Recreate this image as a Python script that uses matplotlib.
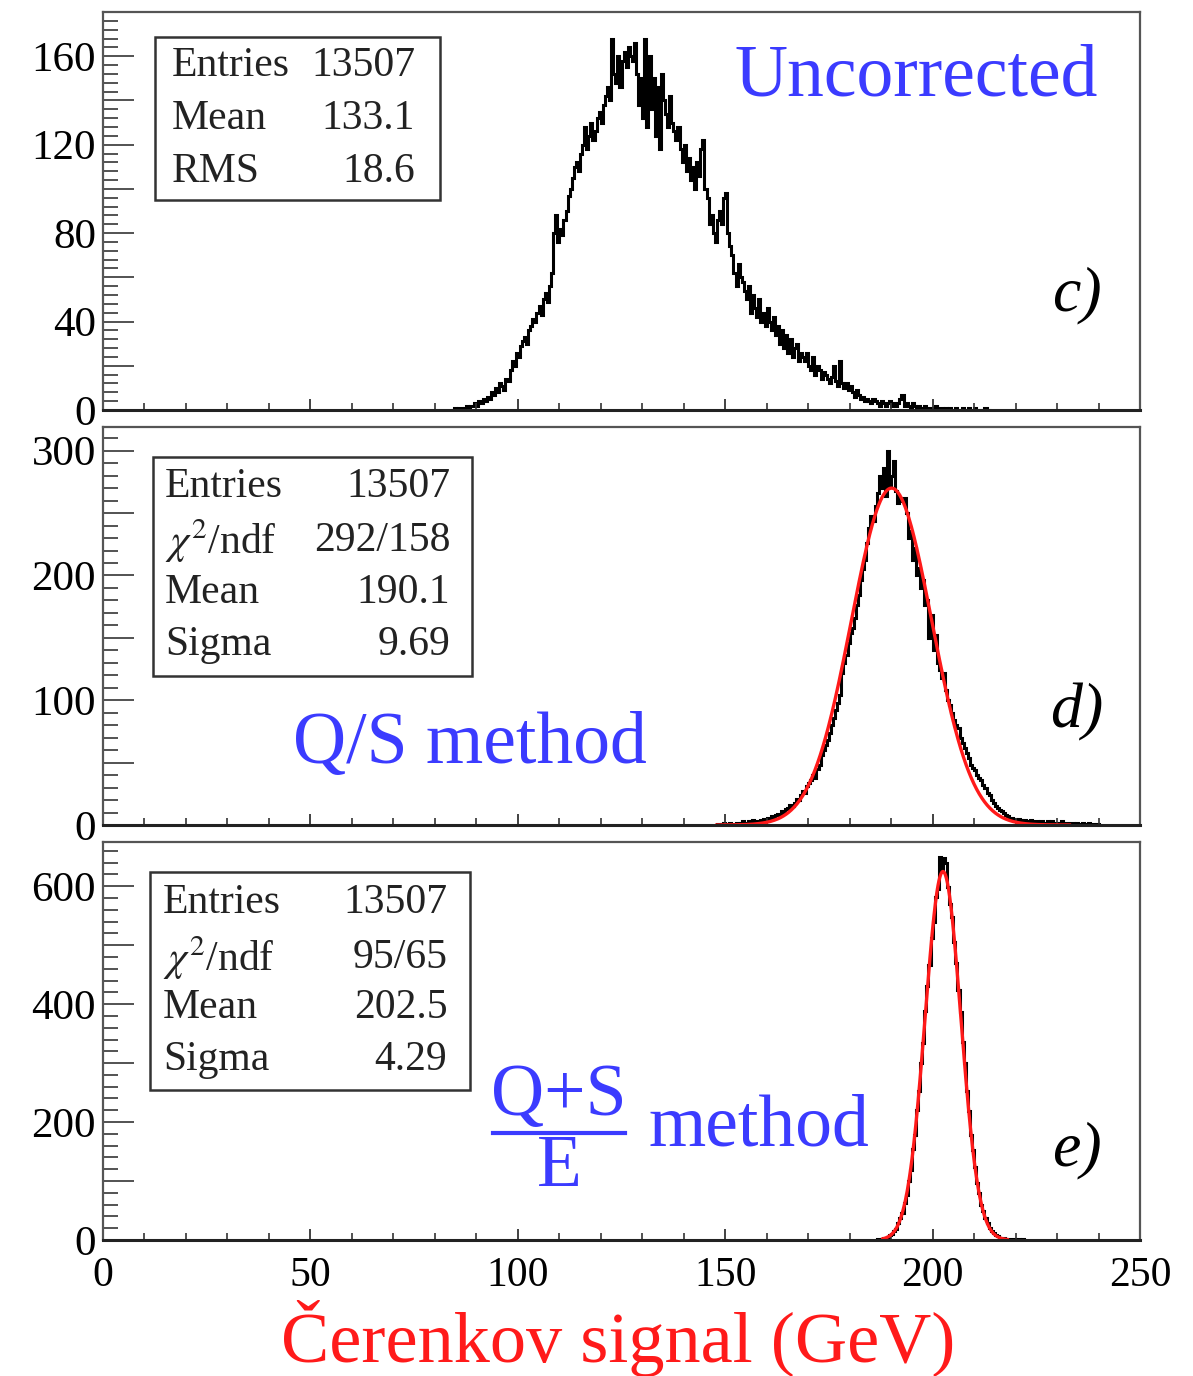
import numpy as np
import matplotlib.pyplot as plt
from matplotlib.ticker import MultipleLocator, FuncFormatter
from matplotlib.patches import Rectangle

plt.rcParams['font.family'] = ['Liberation Serif', 'DejaVu Serif']
plt.rcParams['mathtext.fontset'] = 'stix'

# histogram bins are 0.5 GeV wide
bin_width = 0.5

# c) uncorrected, first bin starts at 84 GeV
c_start = 84.0
c_counts = [
    0, 1, 0, 1, 1, 0, 1, 2, 1, 2,
    2, 3, 2, 4, 3, 5, 4, 6, 5, 8,
    7, 10, 8, 12, 11, 9, 14, 13, 18, 22,
    20, 26, 24, 29, 31, 33, 30, 36, 38, 41,
    40, 44, 47, 43, 50, 53, 49, 56, 62, 80,
    88, 76, 82, 79, 86, 90, 97, 100, 105, 110,
    112, 108, 116, 120, 128, 118, 124, 130, 122, 126,
    132, 135, 130, 138, 142, 146, 140, 168, 152, 148,
    160, 146, 158, 162, 155, 164, 160, 158, 166, 152,
    138, 150, 132, 168, 128, 160, 136, 150, 124, 146,
    118, 152, 140, 134, 128, 142, 130, 126, 122, 128,
    118, 112, 120, 108, 114, 104, 110, 100, 112, 106,
    118, 122, 100, 96, 84, 88, 80, 76, 86, 90,
    84, 96, 98, 80, 74, 70, 62, 56, 66, 60,
    58, 54, 50, 56, 44, 52, 46, 42, 50, 40,
    44, 38, 46, 40, 36, 42, 34, 38, 30, 36,
    28, 34, 26, 32, 24, 28, 30, 22, 26, 24,
    22, 26, 20, 18, 24, 16, 20, 18, 14, 17,
    16, 14, 12, 15, 20, 13, 11, 22, 12, 10,
    12, 9, 11, 8, 6, 9, 7, 5, 6, 4,
    5, 4, 3, 5, 4, 3, 2, 4, 3, 2,
    3, 4, 2, 3, 2, 3, 5, 7, 2, 3,
    2, 1, 3, 2, 1, 2, 1, 1, 2, 1,
    1, 0, 1, 2, 0, 1, 1, 0, 1, 0,
    1, 0, 0, 1, 0, 0, 1, 0, 0, 1,
    0, 0, 1, 0, 0, 0, 0, 1, 0, 0,
]

# d) Q/S method, first bin starts at 148 GeV
d_start = 148.0
d_counts = [
    1, 0, 1, 2, 1, 0, 2, 1, 1, 2,
    1, 2, 3, 2, 1, 3, 2, 4, 3, 2,
    3, 4, 5, 4, 6, 5, 7, 6, 8, 9,
    8, 11, 10, 13, 14, 16, 15, 18, 21, 20,
    24, 27, 26, 31, 34, 36, 40, 38, 45, 48,
    56, 60, 64, 68, 74, 80, 86, 92, 98, 104,
    122, 130, 136, 146, 154, 158, 166, 176, 184, 196,
    205, 212, 226, 238, 248, 244, 256, 266, 280, 270,
    286, 264, 300, 272, 280, 292, 268, 258, 262, 260,
    262, 250, 230, 236, 212, 222, 200, 206, 190, 196,
    176, 180, 150, 168, 140, 152, 130, 124, 118, 122,
    108, 100, 96, 90, 84, 80, 78, 70, 66, 62,
    58, 54, 48, 46, 44, 40, 38, 36, 32, 30,
    26, 24, 20, 18, 15, 14, 12, 11, 10, 8,
    7, 6, 6, 5, 4, 5, 4, 3, 4, 3,
    3, 4, 2, 3, 3, 2, 3, 2, 2, 3,
    2, 3, 2, 2, 1, 2, 3, 1, 2, 2,
    1, 2, 1, 2, 1, 1, 2, 1, 1, 2,
    1, 1, 0, 1,
]

# e) (Q+S)/E method, first bin starts at 186 GeV
e_start = 186.0
e_counts = [
    0, 1, 1, 1, 3, 4, 5, 8, 11, 16, 19, 28, 38, 46, 63, 76,
    100, 118, 154, 178, 220, 252, 300, 334, 388, 430, 466, 512,
    540, 582, 596, 650, 630, 648, 640, 598, 570, 548, 505, 470,
    424, 386, 336, 300, 252, 218, 178, 152, 124, 96, 80, 60,
    49, 37, 29, 20, 15, 12, 8, 6, 4, 3, 3, 2,
    1, 2, 1, 1, 0, 1, 0, 1,
]

# gaussian fits (amplitude, mean, sigma, range)
d_fit = (270, 190.1, 9.69, 148, 233)
e_fit = (625, 202.5, 4.29, 188, 218)

c_stats = [("Entries", "13507"), ("Mean", "133.1"), ("RMS", "18.6")]
d_stats = [("Entries", "13507"), (r"$\chi^2$/ndf", "292/158"),
           ("Mean", "190.1"), ("Sigma", "9.69")]
e_stats = [("Entries", "13507"), (r"$\chi^2$/ndf", "95/65"),
           ("Mean", "202.5"), ("Sigma", "4.29")]

blue = '#3b3bff'
W, H = 1193, 1376
fig = plt.figure(figsize=(W / 100, H / 100), dpi=100)


def make_axes(top_px, bottom_px):
    left, right = 103, 1140
    return fig.add_axes([left / W, 1 - bottom_px / H,
                         (right - left) / W, (bottom_px - top_px) / H])


def style(ax, ymax, ymajor, yminor, ylabel_step, show_x):
    ax.set_xlim(0, 250)
    ax.set_ylim(0, ymax)
    for s in ax.spines.values():
        s.set_color('#555555')
        s.set_linewidth(1.6)
    ax.spines['bottom'].set_color('#222222')
    ax.spines['bottom'].set_linewidth(2.2)
    ax.xaxis.set_major_locator(MultipleLocator(50))
    ax.xaxis.set_minor_locator(MultipleLocator(10))
    ax.yaxis.set_major_locator(MultipleLocator(ymajor))
    ax.yaxis.set_minor_locator(MultipleLocator(yminor))
    ax.yaxis.set_major_formatter(FuncFormatter(
        lambda v, p: '%d' % v if abs(v / ylabel_step - round(v / ylabel_step)) < 1e-6 else ''))
    ax.tick_params(axis='y', which='major', direction='in', length=22, width=1.3,
                   labelsize=31, pad=5, color='#444444', right=False)
    ax.tick_params(axis='y', which='minor', direction='in', length=11, width=1.3,
                   color='#444444', right=False)
    ax.tick_params(axis='x', which='major', direction='in', length=8, width=1.3,
                   labelsize=30, pad=12, top=False, labelbottom=show_x, color='#333333')
    ax.tick_params(axis='x', which='minor', direction='in', length=5, width=1.2,
                   top=False, color='#333333')


def draw_hist(ax, start, counts):
    counts = np.array(counts, dtype=float)
    edges = start + bin_width * np.arange(len(counts) + 1)
    ax.stairs(counts, edges, color='black', lw=2.2)
    ax.plot([0, 250], [0, 0], color='black', lw=1.8)


def draw_fit(ax, fit):
    amp, mean, sigma, lo, hi = fit
    x = np.linspace(lo, hi, 400)
    ax.plot(x, amp * np.exp(-0.5 * ((x - mean) / sigma) ** 2), color='#ff1a1a', lw=2.4)


def draw_stats(ax, box, rows, xl, xr, ys):
    x0, y0, x1, y1 = box
    ax.add_patch(Rectangle((x0, y0), x1 - x0, y1 - y0, transform=ax.transAxes,
                           facecolor='white', edgecolor='#333333', lw=1.8, zorder=5))
    for (name, val), y in zip(rows, ys):
        ax.text(xl, y, name, transform=ax.transAxes, fontsize=30,
                ha='left', va='center', color='#222222', zorder=6)
        ax.text(xr, y, val, transform=ax.transAxes, fontsize=30,
                ha='right', va='center', color='#222222', zorder=6)


# panel c
ax_c = make_axes(12, 410)
style(ax_c, 180, 20, 4, 40, False)
draw_hist(ax_c, c_start, c_counts)
draw_stats(ax_c, (0.050, 0.528, 0.325, 0.937), c_stats, 0.066, 0.301,
           [0.864, 0.731, 0.598])
ax_c.text(0.784, 0.834, "Uncorrected", transform=ax_c.transAxes, fontsize=53,
          color=blue, ha='center', va='center')
ax_c.text(0.939, 0.289, "c)", transform=ax_c.transAxes, fontsize=46,
          style='italic', ha='center', va='center')

# panel d
ax_d = make_axes(427, 825)
style(ax_d, 319, 50, 10, 100, False)
draw_hist(ax_d, d_start, d_counts)
draw_fit(ax_d, d_fit)
draw_stats(ax_d, (0.048, 0.374, 0.356, 0.925), d_stats, 0.060, 0.335,
           [0.849, 0.714, 0.583, 0.452])
ax_d.text(0.354, 0.201, "Q/S method", transform=ax_d.transAxes, fontsize=53,
          color=blue, ha='center', va='center')
ax_d.text(0.939, 0.284, "d)", transform=ax_d.transAxes, fontsize=46,
          style='italic', ha='center', va='center')

# panel e
ax_e = make_axes(842, 1240)
style(ax_e, 675, 100, 20, 200, True)
draw_hist(ax_e, e_start, e_counts)
draw_fit(ax_e, e_fit)
draw_stats(ax_e, (0.045, 0.377, 0.354, 0.925), e_stats, 0.058, 0.332,
           [0.847, 0.709, 0.583, 0.452])
ax_e.text(0.440, 0.359, "Q+S", transform=ax_e.transAxes, fontsize=53,
          color=blue, ha='center', va='center')
ax_e.plot([0.376, 0.503], [0.269, 0.269], transform=ax_e.transAxes,
          color=blue, lw=3)
ax_e.text(0.440, 0.180, "E", transform=ax_e.transAxes, fontsize=53,
          color=blue, ha='center', va='center')
ax_e.text(0.526, 0.281, "method", transform=ax_e.transAxes, fontsize=53,
          color=blue, ha='left', va='center')
ax_e.text(0.939, 0.226, "e)", transform=ax_e.transAxes, fontsize=46,
          style='italic', ha='center', va='center')

fig.text(618 / W, 1 - 1362 / H, "Čerenkov signal (GeV)", fontsize=52,
         color='#ff1a1a', ha='center', va='baseline')

fig.savefig("out.png", dpi=100)
